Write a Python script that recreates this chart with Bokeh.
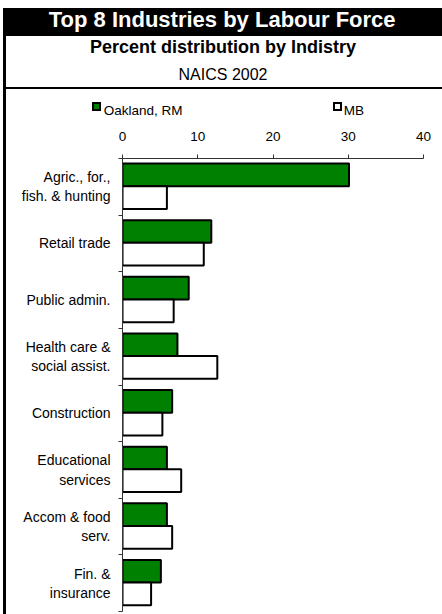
from bokeh.plotting import figure
from bokeh.models import (FactorRange, Range1d, LinearAxis, CategoricalAxis, FixedTicker,
                          Title, ColumnDataSource)
from bokeh.transform import dodge
from bokeh.embed import file_html
from bokeh.resources import INLINE

# ---------------- data ----------------
categories = ["Agric., for.,\nfish. & hunting", "Retail trade", "Public admin.",
              "Health care &\nsocial assist.", "Construction", "Educational\nservices",
              "Accom & food\nserv.", "Fin. &\ninsurance"]
oakland = [30.1, 11.8, 8.8, 7.3, 6.6, 5.9, 5.9, 5.1]
mb = [5.9, 10.8, 6.8, 12.6, 5.3, 7.8, 6.6, 3.8]
series_names = ["Oakland, RM", "MB"]
series_colors = ["#008000", "#ffffff"]
x_ticks = [0, 10, 20, 30, 40]
title_text = "Top 8 Industries by Labour Force"
subtitle_text = "Percent distribution by Indistry"
classification_text = "NAICS 2002"

# ---------------- styling / layout ----------------
FONT = "Liberation Sans"
W, H = 442, 614
FL, FR, FT, FB = 122, 19, 158, 3
HEAD_CENTER = (3 + W) / 2

# Arial / Liberation Sans advance widths (1/1000 em), used only to place centred headings
REG = {" ": 278, ",": 278, "0": 556, "2": 556, "A": 667, "C": 722, "I": 278, "M": 833, "B": 667,
       "N": 722, "O": 778, "R": 722, "S": 667, "a": 556, "d": 556, "k": 500, "l": 222, "n": 556}
BOLD = {" ": 278, "8": 556, "F": 611, "I": 278, "L": 611, "P": 667, "T": 611, "a": 556, "b": 611,
        "c": 556, "d": 611, "e": 556, "i": 278, "n": 611, "o": 611, "p": 611, "r": 389, "s": 556,
        "t": 333, "u": 611, "y": 556}
def tw(s, px, table):
    return sum(table.get(ch, 556) for ch in s) / 1000.0 * px
def centred_offset(s, px, table):
    return (HEAD_CENTER - tw(s, px, table) / 2) - FL

p = figure(width=W, height=H, output_backend="svg", toolbar_location=None,
           x_range=Range1d(0, 40), y_range=FactorRange(factors=categories[::-1]),
           x_axis_location="above", y_axis_location=None,
           min_border_left=FL, min_border_right=FR, min_border_top=FT, min_border_bottom=FB)
p.outline_line_color = None
p.grid.visible = False
p.background_fill_alpha = 0
p.border_fill_alpha = 0
# panel decoration: black title band, left rule, rule under heading, legend keys
p.styles = {"background": ", ".join([
    f"linear-gradient({series_colors[0]},{series_colors[0]}) 94px 104px / 5px 5px no-repeat",
    f"linear-gradient({series_colors[1]},{series_colors[1]}) 335px 104px / 5px 5px no-repeat",
    "linear-gradient(#000,#000) 92px 102px / 9px 9px no-repeat",
    "linear-gradient(#000,#000) 333px 102px / 9px 9px no-repeat",
    "linear-gradient(#000,#000) 3px 8px / 439px 28px no-repeat",
    "linear-gradient(#000,#000) 3px 8px / 3px 606px no-repeat",
    "linear-gradient(#000,#000) 3px 87px / 439px 2px no-repeat",
    "#fff"])}

src = ColumnDataSource(dict(cat=categories, oak=oakland, mb=mb))
r1 = p.hbar(y=dodge("cat", 0.21, range=p.y_range), right="oak", height=0.4, source=src,
            fill_color=series_colors[0], line_color="black", line_width=2)
r2 = p.hbar(y=dodge("cat", -0.19, range=p.y_range), right="mb", height=0.4, source=src,
            fill_color=series_colors[1], line_color="black", line_width=2)

xa = p.xaxis[0]
xa.ticker = FixedTicker(ticks=x_ticks)
xa.minor_tick_line_color = None
xa.major_tick_out = 4
xa.major_tick_in = 0
xa.axis_line_color = "#333333"
xa.major_tick_line_color = "#333333"
xa.major_label_text_font = FONT
xa.major_label_text_font_size = "13.5px"
xa.major_label_text_color = "black"
xa.major_label_standoff = 14

# category boundary ticks
n_cat = len(categories)
ba = LinearAxis(ticker=FixedTicker(ticks=list(range(n_cat + 1))),
                major_label_overrides={i: "" for i in range(n_cat + 1)},
                major_tick_out=4, major_tick_in=0, minor_tick_line_color=None,
                major_label_standoff=0, axis_line_color="#333333", major_tick_line_color="#333333")
p.add_layout(ba, "left")

ca = CategoricalAxis(axis_line_color=None, major_tick_line_color=None, major_label_standoff=2,
                     major_label_text_font=FONT, major_label_text_font_size="14px",
                     major_label_text_color="black")
p.add_layout(ca, "left")

# legend labels row (keys drawn in the panel background)
LEG_PX = 13.5
legend_left = 103.3
mb_left = 345
gap = mb_left - (legend_left + tw(series_names[0], LEG_PX, REG))
n_sp = int(round(gap / (278 / 1000.0 * LEG_PX)))
legend_text = series_names[0] + "\u00a0" * n_sp + series_names[1]
p.add_layout(Title(text=legend_text, align="left", offset=legend_left - FL, standoff=21,
                   text_font=FONT, text_font_size=f"{LEG_PX}px", text_font_style="normal",
                   text_color="black"), "above")

# heading lines
p.add_layout(Title(text=classification_text, align="left",
                   offset=centred_offset(classification_text, 16, REG), standoff=15,
                   text_font=FONT, text_font_size="16px", text_font_style="normal",
                   text_color="black"), "above")
p.add_layout(Title(text=subtitle_text, align="left",
                   offset=centred_offset(subtitle_text, 18, BOLD), standoff=0,
                   text_font=FONT, text_font_size="18px", text_font_style="bold",
                   text_color="black"), "above")
p.title.text = title_text
p.title.align = "left"
p.title.offset = centred_offset(title_text, 22, BOLD)
p.title.standoff = 5
p.title.text_font = FONT
p.title.text_font_size = "22px"
p.title.text_font_style = "bold"
p.title.text_color = "white"

open("out.html", "w").write(file_html(p, INLINE))
